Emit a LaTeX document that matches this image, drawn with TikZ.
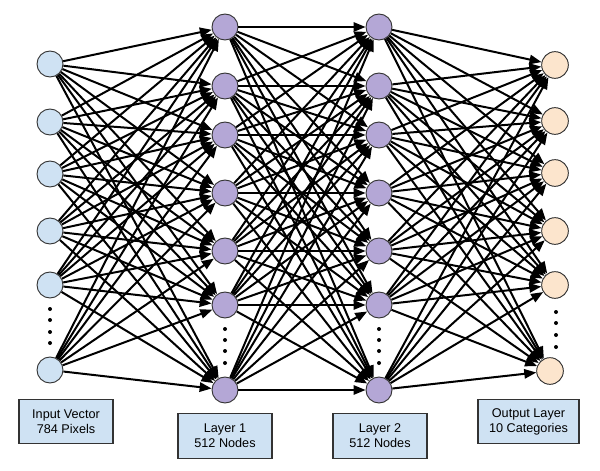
\documentclass[tikz,border=0pt]{standalone}
\usepackage{fontspec}
\setmainfont{Liberation Sans}
\usetikzlibrary{arrows.meta}
\definecolor{inpc}{HTML}{CFE2F3}
\definecolor{hidc}{HTML}{B4A7D6}
\definecolor{outc}{HTML}{FCE5CD}
\definecolor{boxc}{HTML}{CFE2F3}
\definecolor{linec}{HTML}{333333}
\tikzset{
  neuron/.style={circle,draw=linec,line width=0.7pt,minimum size=19.5pt,inner sep=0pt},
  inp/.style={neuron,fill=inpc},
  hid/.style={neuron,fill=hidc},
  outn/.style={neuron,fill=outc,minimum size=20pt},
  edge/.style={line width=1.5pt,black,-{Triangle[length=9pt,width=7pt]}},
  dotn/.style={circle,fill=black,inner sep=0pt,minimum size=3pt},
  label/.style={draw=linec,line width=0.9pt,fill=boxc,minimum width=70.5pt,minimum height=33.5pt,
    align=center,font=\fontsize{9.5pt}{11.3pt}\selectfont,inner sep=1pt}
}
\begin{document}
\begin{tikzpicture}[x=0.75pt,y=-0.75pt]
\useasboundingbox (0,0) rectangle (600,471);
\foreach \y [count=\k] in {64,122,174,231,285,370} \node[inp] (i\k) at (50,\y) {};
\foreach \y [count=\k] in {27,86,135,193,251,305,390} \node[hid] (a\k) at (225,\y) {};
\foreach \y [count=\k] in {27,86,135,193,251,305,390} \node[hid] (b\k) at (379,\y) {};
\foreach \x/\y [count=\k] in {555/65,555/121,555/173,555/231,555/285,550/371} \node[outn] (o\k) at (\x,\y) {};
\foreach \s in {1,...,6} \foreach \t in {1,...,7} \draw[edge] (i\s) -- (a\t);
\foreach \s in {1,...,7} \foreach \t in {1,...,7} \draw[edge] (a\s) -- (b\t);
\foreach \s in {1,...,7} \foreach \t in {1,...,6} \draw[edge] (b\s) -- (o\t);
\foreach \y [count=\k] in {309,320,332,343} \node[dotn] (di\k) at (50,\y) {};
\foreach \y [count=\k] in {329,340,351,363} \node[dotn] (da\k) at (225,\y) {};
\foreach \y [count=\k] in {329,340,351,363} \node[dotn] (db\k) at (379,\y) {};
\foreach \y [count=\k] in {312,323,335,347} \node[dotn] (do\k) at (556,\y) {};
\node[label] (li) at (66,421.5) {Input Vector\\784 Pixels};
\node[label] (la) at (225,436) {Layer 1\\512 Nodes};
\node[label] (lb) at (380,436) {Layer 2\\512 Nodes};
\node[label,minimum width=75.75pt] (lo) at (528.5,421.5) {Output Layer\\10 Categories};
\end{tikzpicture}
\end{document}
